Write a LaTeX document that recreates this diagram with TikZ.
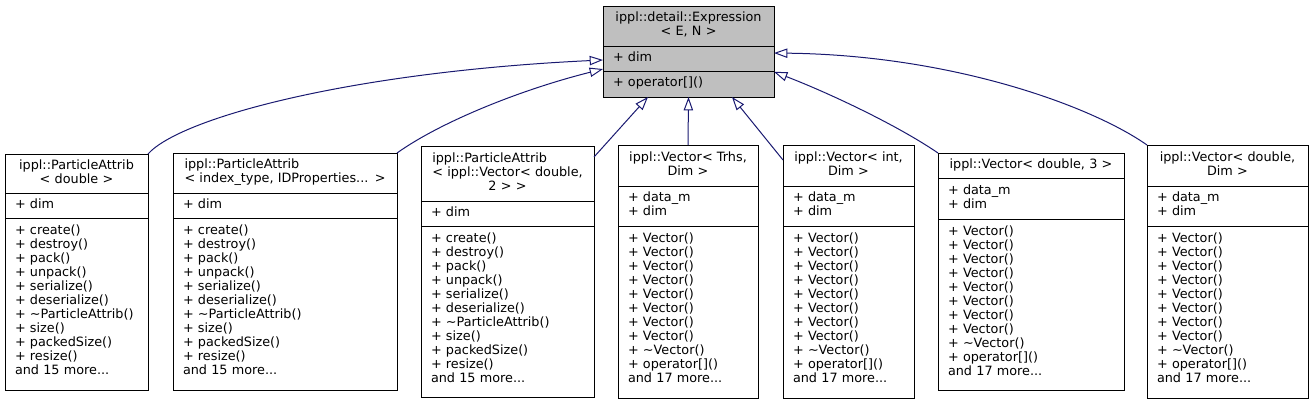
\documentclass[tikz,border=0pt]{standalone}
\usepackage{fontspec}
\setmainfont{DejaVu Sans}
\usetikzlibrary{arrows.meta,positioning}
\definecolor{edgeblue}{RGB}{25,25,112}
\definecolor{basegray}{RGB}{191,191,191}
\newcommand{\classfont}{\fontsize{9.6pt}{10.5pt}\selectfont}
\newcommand{\clsname}[2]{\begin{tabular}{@{}l@{}}#1\multicolumn{1}{@{}c@{}}{#2}\end{tabular}}
\newcommand{\members}[1]{\begin{tabular}{@{}l@{}}#1\end{tabular}}
\newcommand{\attribops}{\members{+ create()\\+ destroy()\\+ pack()\\+ unpack()\\+ serialize()\\+ deserialize()\\+ \textasciitilde ParticleAttrib()\\+ size()\\+ packedSize()\\+ resize()\\and 15 more...\\[3pt]}}
\newcommand{\vectorops}{\members{+ Vector()\\+ Vector()\\+ Vector()\\+ Vector()\\+ Vector()\\+ Vector()\\+ Vector()\\+ Vector()\\+ \textasciitilde Vector()\\+ operator[]()\\and 17 more...\\[3pt]}}

\begin{document}
\begin{tikzpicture}[x=0.75pt,y=-0.75pt,
  part/.style 2 args={draw=black,line width=0.75pt,fill=white,inner xsep=7.5pt,inner ysep=0pt,outer sep=0pt,
    text width=#1*0.75pt-15pt,minimum height=#2*0.75pt,align=left,font=\classfont},
  head/.style 2 args={part={#1}{#2},align=center},
  inherit/.style={draw=edgeblue,line width=0.75pt,-{Triangle[open,length=10pt,width=7pt]}}]
\useasboundingbox (0,0) rectangle (1312,404);
% base class
\node[head={171}{40},fill=basegray,anchor=north] (expr) at (688.5,6) {\clsname{ippl::detail::Expression\\}{< E, N >}};
\node[part={171}{25},fill=basegray,below=0pt of expr] (exprAttr) {\members{+ dim}};
\node[part={171}{26},fill=basegray,below=0pt of exprAttr] (exprOps) {\members{+ operator[]()}};
% particle attributes
\node[head={143}{39},anchor=north] (pdbl) at (76.5,154) {\clsname{ippl::ParticleAttrib\\}{< double >}};
\node[part={143}{25},below=0pt of pdbl] (pdblAttr) {\members{+ dim}};
\node[part={143}{172},below=0pt of pdblAttr] (pdblOps) {\attribops};
\node[head={224}{40},anchor=north] (pidx) at (285,153) {\clsname{ippl::ParticleAttrib\\}{< index\_type, IDProperties... >}};
\node[part={224}{25},below=0pt of pidx] (pidxAttr) {\members{+ dim}};
\node[part={224}{172},below=0pt of pidxAttr] (pidxOps) {\attribops};
\node[head={173}{55},anchor=north] (pvec) at (507.5,146) {\clsname{ippl::ParticleAttrib\\< ippl::Vector< double,\\}{2 > >}};
\node[part={173}{25},below=0pt of pvec] (pvecAttr) {\members{+ dim}};
\node[part={173}{171},below=0pt of pvecAttr] (pvecOps) {\attribops};
% vectors
\node[head={140}{41},anchor=north] (vtrhs) at (688,145) {\clsname{ippl::Vector< Trhs,\\}{Dim >}};
\node[part={140}{40},below=0pt of vtrhs] (vtrhsAttr) {\members{+ data\_m\\+ dim}};
\node[part={140}{172},below=0pt of vtrhsAttr] (vtrhsOps) {\vectorops};
\node[head={131}{41},anchor=north] (vint) at (848.5,145) {\clsname{ippl::Vector< int,\\}{Dim >}};
\node[part={131}{40},below=0pt of vint] (vintAttr) {\members{+ data\_m\\+ dim}};
\node[part={131}{172},below=0pt of vintAttr] (vintOps) {\vectorops};
\node[head={186}{25},anchor=north] (vd3) at (1031,153) {\clsname{}{ippl::Vector< double, 3 >}};
\node[part={186}{41},below=0pt of vd3] (vd3Attr) {\members{+ data\_m\\+ dim}};
\node[part={186}{171},below=0pt of vd3Attr] (vd3Ops) {\vectorops};
\node[head={161}{41},anchor=north] (vddim) at (1227.5,145) {\clsname{ippl::Vector< double,\\}{Dim >}};
\node[part={161}{40},below=0pt of vddim] (vddimAttr) {\members{+ data\_m\\+ dim}};
\node[part={161}{172},below=0pt of vddimAttr] (vddimOps) {\vectorops};
% inheritance
\draw[inherit] (pdbl.north east) .. controls (180,118) and (350,72) .. ([yshift=-1.1pt]exprAttr.west);
\draw[inherit] (pidx.north east) .. controls (442,121) and (523,89) .. ([yshift=-7.9pt]exprAttr.west);
\draw[inherit] ([yshift=-8.25pt]pvec.north east) -- ([xshift=-30.4pt]exprOps.south);
\draw[inherit] (vtrhs.north) -- (exprOps.south);
\draw[inherit] ([yshift=-11.25pt]vint.north west) -- ([xshift=32.6pt]exprOps.south);
\draw[inherit] (vd3.north west) .. controls (897,125) and (829,93) .. ([yshift=-10pt]exprAttr.east);
\draw[inherit] (vddim.north west) .. controls (1090,105) and (950,55) .. ([yshift=4.1pt]exprAttr.east);
\end{tikzpicture}
\end{document}
